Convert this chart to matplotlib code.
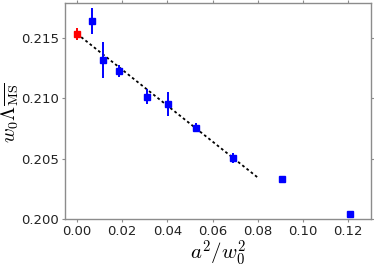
import matplotlib
matplotlib.use("Agg")
import matplotlib.pyplot as plt
import numpy as np

plt.rcParams['mathtext.fontset'] = 'cm'
plt.rcParams['font.family'] = ['DejaVu Sans']

# continuum-limit point (red)
x_cont = [0.0]
y_cont = [0.21533]
e_cont = [0.0005]

# lattice data (blue)
x_lat = [0.0068, 0.0115, 0.0186, 0.0311, 0.0403, 0.0525, 0.0692, 0.0908, 0.1208]
y_lat = [0.21637, 0.21318, 0.21224, 0.21013, 0.2095, 0.20757, 0.20505, 0.20335, 0.2004]
e_lat = [0.00107, 0.0015, 0.0005, 0.00063, 0.001, 0.0004, 0.0004, 0.0001, 0.0003]

# linear fit
fit_intercept = 0.21533
fit_slope = -0.1487
fit_xrange = [0.0, 0.08]

xticks = [0.00, 0.02, 0.04, 0.06, 0.08, 0.10, 0.12]
yticks = [0.200, 0.205, 0.210, 0.215]

fig = plt.figure(figsize=(3.74, 2.68), dpi=100)
ax = fig.add_axes([0.1738, 0.1828, 0.8174, 0.8072])

xf = np.array(fit_xrange)
ax.plot(xf, fit_intercept + fit_slope * xf, linestyle=(0, (1.5, 1.5)), color='black', lw=1.3, zorder=2)

ax.errorbar(x_lat, y_lat, yerr=e_lat, fmt='s', color='blue', ms=3.8, elinewidth=1.4,
            capsize=0, zorder=3)
ax.errorbar(x_cont, y_cont, yerr=e_cont, fmt='s', color='red', ms=3.8, elinewidth=1.4,
            capsize=0, zorder=3)

ax.set_xlim(-0.0053, 0.130)
ax.set_ylim(0.200, 0.2179)
ax.set_xticks(xticks)
ax.set_xticklabels([f"{v:.2f}" for v in xticks])
ax.set_yticks(yticks)
ax.set_yticklabels([f"{v:.3f}" for v in yticks])

for s in ax.spines.values():
    s.set_color('#8c8c8c')
    s.set_linewidth(1.0)
ax.tick_params(axis='both', which='both', direction='out', length=2.5, width=0.8,
               color='#8c8c8c', labelsize=9.5, pad=2, labelcolor='#222222',
               top=True, right=True)

ax.set_xlabel(r'$a^2/w_0^2$', fontsize=15, labelpad=0)
ax.set_ylabel(r'$w_0\Lambda_{\overline{\mathrm{MS}}}$', fontsize=14.5)
ax.yaxis.set_label_coords(-0.1407, 0.49)

fig.savefig('out.png', dpi=100)
